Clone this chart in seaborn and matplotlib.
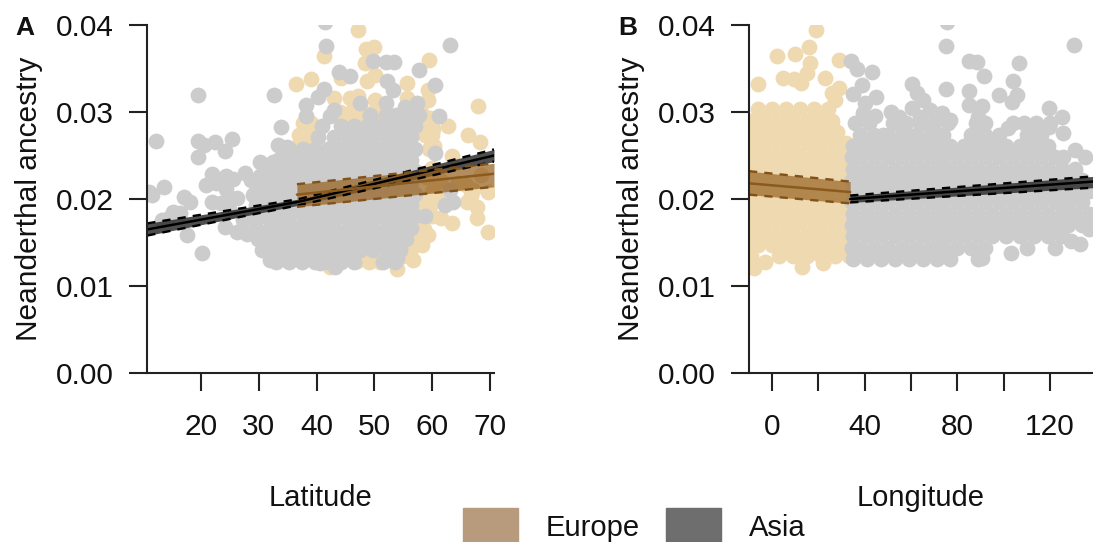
# neanderthal ancestry vs latitude / longitude
import matplotlib
matplotlib.use('Agg')
import matplotlib.pyplot as plt
from matplotlib.patches import Patch
import pandas as pd
import seaborn as sns

# panel A, Asia: single samples outside the dense cloud
a_asia_lat = [41.5, 41.6, 63.1, 49.8, 52, 53.4, 57.8, 43.9, 45.8, 52.2, 60.5, 41.3, 53.3, 19.5, 32.6, 40.2, 38.1, 47.5, 57.4, 43,
              38.1, 61.2, 33.9, 55.3, 57.7, 49.2, 52, 42.3, 12.3, 19.5, 20.5, 22.5, 25.3, 24.1, 19.4, 33.3, 34.8, 30.2, 32.5, 27.7,
              21.9, 24.4, 25.6, 20.9, 13.6, 11.5, 17, 18.1, 15.2, 21.9, 24.4, 26.2, 23.5, 24.6, 13.2, 16.4, 17.5, 20.1, 24.1, 26.2,
              27.9, 28.7, 30.2, 29, 31.9, 43.2, 40.6, 58.8, 60.5, 62.2, 63.6, 63.1, 54.1, 53.9, 45.9, 14.5, 11, 22.6, 25, 27.2]
a_asia_anc = [.0404, .0376, .0377, .0359, .0358, .0358, .0348, .0346, .0341, .0336, .0331, .0326, .0325, .0319, .032, .0317, .0308, .031, .031, .0302,
              .0295, .0295, .0283, .0306, .0297, .0295, .031, .0295, .0267, .0267, .0262, .0266, .0269, .0255, .0248, .0262, .026, .0242, .0242, .023,
              .0229, .0226, .0223, .0216, .0214, .0205, .0202, .0197, .0185, .0196, .0212, .0201, .0195, .0199, .0176, .0184, .0159, .0138, .0168, .0162,
              .016, .0222, .0226, .0205, .013, .0122, .0127, .018, .0253, .0193, .0197, .021, .0143, .0132, .0138, .0178, .0208, .0218, .0186, .0176]

# panel A, Asia: dense cloud, one list of latitudes per ancestry level
a_cloud_anc = [.0128, .0141, .0154, .0167, .018, .0193, .0206, .0219, .0232, .0245, .0258, .0271, .0284, .0297]
a_cloud_lat = [
    [33, 35.3, 37.5, 39.8, 42, 44.3, 46.5, 51.5, 53.6],
    [30.5, 32.2, 34.2, 36.4, 38.7, 40.9, 43.1, 45.4, 47.6, 49.8, 52.1, 54.4],
    [29.8, 31, 33.1, 35.3, 37.6, 39.8, 42, 44.3, 46.5, 48.7, 51, 53.2, 55.4],
    [29.5, 32, 34.2, 36.4, 38.7, 40.9, 43.1, 45.4, 47.6, 49.8, 52.1, 54.4, 56.4],
    [29.2, 31, 33.1, 35.3, 37.6, 39.8, 42, 44.3, 46.5, 48.7, 51, 53.2, 55.4, 57],
    [29.5, 32, 34.2, 36.4, 38.7, 40.9, 43.1, 45.4, 47.6, 49.8, 52.1, 54.4, 56.4],
    [29.1, 31, 33.1, 35.3, 37.6, 39.8, 42, 44.3, 46.5, 48.7, 51, 53.2, 55.4, 57],
    [30, 32, 34.2, 36.4, 38.7, 40.9, 43.1, 45.4, 47.6, 49.8, 52.1, 54.4, 56.4],
    [31.4, 33.1, 35.3, 37.6, 39.8, 42, 44.3, 46.5, 48.7, 51, 53.2, 55.4, 57],
    [33.4, 34.2, 36.4, 38.7, 40.9, 43.1, 45.4, 47.6, 49.8, 52.1, 54.4, 56.4],
    [35.3, 37.6, 39.8, 42, 44.3, 46.5, 48.7, 51, 53.2, 55.4, 57],
    [40.2, 43.1, 45.4, 47.6, 49.8, 52.1, 54.4, 56.4],
    [41, 44.3, 46.5, 48.7, 51, 53.2, 55.4, 57],
    [49.2, 52, 53.8, 55.4, 57.2],
]

# panel A, Europe
a_eur_lat = [47.2, 48.5, 49.9, 41.3, 48.4, 59.4, 36.4, 39, 44.3, 48.7, 50.1, 55.6, 59.3, 59.3, 67.9, 62.7, 66.2, 68.3, 63.4, 43,
             45.8, 47.2, 50.1, 55.6, 59.6, 59.6, 45.2, 38.5, 37.4, 39.4, 69.7, 67.7, 67.7, 69.7, 67, 61.6, 63.5, 59.3, 58.2, 56.7,
             53.9, 50.4, 42.3, 48.7, 52.7, 57, 58.4, 59.6, 58.6, 59.4, 60.2, 60, 57.8, 56.4, 54.6, 47, 68.4, 65.8, 66, 61.4,
             44, 46, 48, 50, 58, 37.6, 39, 44.6, 47, 52, 58.4, 59.8, 37, 38.6, 40, 58.8, 60, 36.8, 38.4, 60.4,
             56, 58, 57.5, 58, 60, 58.5, 60, 60.2, 59, 60.6, 44, 49, 51, 55, 62, 64.4, 66.8]
a_eur_anc = [.0394, .0372, .0375, .0364, .0356, .036, .0332, .0338, .0339, .0336, .0342, .0333, .0325, .0314, .0307, .0284, .0273, .0266, .025, .0316,
             .0316, .0318, .0314, .0316, .0293, .0272, .0289, .0282, .027, .0264, .0162, .0178, .0191, .0208, .021, .0178, .0172, .0159, .0147, .013,
             .012, .0132, .0122, .0136, .0141, .0172, .0187, .0203, .0165, .0258, .0281, .0236, .0155, .0142, .0135, .0129, .0228, .0216, .0196, .0222,
             .03, .03, .03, .03, .03, .0287, .0287, .0287, .0287, .0287, .0287, .0287, .0274, .0274, .0274, .0274, .0274, .0261, .0261, .0261,
             .015, .015, .0165, .018, .018, .0195, .0195, .021, .0225, .0225, .0135, .0128, .0128, .0135, .02, .0218, .0203]

# panel B, Europe
b_eur_lon = [19, 16, 2, 10, 29, 16.5, 15, 4.5, 9.5, -6, 12.5, 23, 29, 26, 27, -8, 13, -3, 22]
b_eur_anc = [.0394, .0375, .0364, .0367, .036, .0356, .0345, .0339, .0338, .0332, .0333, .0339, .0328, .0322, .0314, .0121, .0122, .0128, .0127]
b_eur_cloud_anc = [.0134, .0147, .016, .0173, .0186, .0199, .0212, .0225, .0238, .0251, .0264, .0277, .029, .0303]
b_eur_cloud_lon = [
    [-9, 3, 9, 15, 21, 27, 33],
    [-10, -6, 0, 6, 12, 18, 24, 30],
    [-9, -3, 3, 9, 15, 21, 27, 33],
    [-10, -6, 0, 6, 12, 18, 24, 30],
    [-9, -3, 3, 9, 15, 21, 27, 33],
    [-10, -6, 0, 6, 12, 18, 24, 30],
    [-9, -3, 3, 9, 15, 21, 27, 33],
    [-10, -6, 0, 6, 12, 18, 24, 30],
    [-9, -3, 3, 9, 15, 21, 27, 33],
    [-10, -6, 0, 6, 12, 18, 24, 30],
    [-9, -3, 3, 9, 15, 21, 27, 32],
    [-10, -6, 0, 6, 12, 18, 24, 28],
    [-9, -3, 3, 9, 15, 21, 26],
    [-6, 0, 6, 12, 18, 24],
]

# panel B, Asia
b_asia_lon = [75.6, 75, 130.5, 34, 36.7, 43, 39, 35, 45, 40, 60.5, 62.7, 75, 85, 88.5, 91.7, 106.7, 104, 85, 98,
              105.8, 103.7, 85, 90.7, 119.7, 125, 125.7, 113, 119.7, 102, 65, 68, 73.5, 51.4, 55, 44.5, 77, 60.5, 89, 89,
              39.3, 64, 68, 56.6, 48, 131, 135, 125.7, 103, 90.7, 137, 133, 138, 129]
b_asia_anc = [.0403, .0376, .0377, .0359, .0349, .0346, .0331, .0321, .0317, .031, .0332, .0322, .0326, .0359, .0357, .0341, .0356, .0336, .0324, .032,
              .032, .0311, .0308, .0307, .0305, .0294, .0276, .0283, .0283, .0282, .0314, .0302, .0299, .03, .0294, .0295, .0291, .0305, .0294, .0283,
              .0299, .0294, .0283, .0276, .0274, .0256, .0248, .0248, .0138, .0132, .0165, .0148, .0182, .0152]
b_asia_cloud_anc = [.0131, .0144, .0157, .017, .0183, .0196, .0209, .0222, .0235, .0248, .0261, .0274, .0287]
b_asia_cloud_lon = [
    [35, 41, 47, 53, 59, 65, 71, 77, 89],
    [34.5, 38, 44, 50, 56, 62, 68, 74, 80, 86, 92, 110, 122],
    [35, 41, 47, 53, 59, 65, 71, 77, 83, 89, 95, 101, 107, 113, 119, 125],
    [34.5, 38, 44, 50, 56, 62, 68, 74, 80, 86, 92, 98, 104, 110, 116, 122, 128, 134],
    [35, 41, 47, 53, 59, 65, 71, 77, 83, 89, 95, 101, 107, 113, 119, 125, 131, 137],
    [34.5, 38, 44, 50, 56, 62, 68, 74, 80, 86, 92, 98, 104, 110, 116, 122, 128, 134],
    [35, 41, 47, 53, 59, 65, 71, 77, 83, 89, 95, 101, 107, 113, 119, 125, 131, 137],
    [34.5, 38, 44, 50, 56, 62, 68, 74, 80, 86, 92, 98, 104, 110, 116, 122, 128, 134],
    [35, 41, 47, 53, 59, 65, 71, 77, 83, 89, 95, 101, 107, 113, 119, 125, 131],
    [34.5, 38, 44, 50, 56, 62, 68, 74, 80, 86, 92, 98, 104, 110, 116, 122],
    [35, 41, 47, 53, 59, 65, 71, 77, 83, 89, 95, 101, 107, 113, 119],
    [38, 44, 50, 56, 62, 68, 74, 86, 92, 98, 110, 116],
    [36, 42, 52, 58, 64, 70, 76, 88, 92, 104, 109, 114, 120],
]

# fitted lines: x, fit, lower, upper
a_asia_x = [10.7, 37, 70.7]
a_asia_fit = [.0165, .0197, .0250]
a_asia_lo = [.0158, .0193, .0243]
a_asia_hi = [.0172, .0200, .0257]
a_eur_x = [36.6, 70.7]
a_eur_fit = [.0205, .0229]
a_eur_lo = [.0191, .0214]
a_eur_hi = [.0217, .0241]
b_eur_x = [-10, 33.7]
b_eur_fit = [.0218, .0208]
b_eur_lo = [.0205, .0195]
b_eur_hi = [.0232, .0220]
b_asia_x = [33.7, 138.6]
b_asia_fit = [.0200, .0220]
b_asia_lo = [.0196, .0213]
b_asia_hi = [.0204, .0226]

y_ticks = [0, .01, .02, .03, .04]
a_ticks = [20, 30, 40, 50, 60, 70]
b_ticks = [0, 20, 40, 60, 80, 100, 120]
b_labels = ['0', '', '40', '', '80', '', '120']

BEIGE = '#efd9b0'
GREY = '#cccccc'
INK = '#111111'


def expand(levels, rows):
    xs, ys = [], []
    for level, row in zip(levels, rows):
        for v in row:
            xs.append(v)
            ys.append(level)
    return xs, ys


def points(ax, xs, ys, color):
    df = pd.DataFrame({'x': xs, 'y': ys})
    sns.scatterplot(data=df, x='x', y='y', color=color, s=130, linewidth=0, ax=ax, zorder=2)


def fit(ax, xs, mid, lo, hi, band, line, edge):
    ax.fill_between(xs, lo, hi, color=band[0], alpha=band[1], linewidth=0, zorder=3)
    df = pd.DataFrame({'x': xs, 'mid': mid, 'lo': lo, 'hi': hi})
    sns.lineplot(data=df, x='x', y='mid', color=line, lw=1.8, errorbar=None, ax=ax, zorder=4)
    for col in ['lo', 'hi']:
        sns.lineplot(data=df, x='x', y=col, color=edge, lw=1.7, ls=(0, (3.5, 3)), errorbar=None, ax=ax, zorder=4)


sns.set_theme(style='ticks')
plt.rcParams['font.family'] = ['Liberation Sans', 'DejaVu Sans']
plt.rcParams['text.color'] = INK
plt.rcParams['axes.labelcolor'] = INK
plt.rcParams['xtick.labelcolor'] = INK
plt.rcParams['ytick.labelcolor'] = INK

fig = plt.figure(figsize=(10.93, 5.42), dpi=100)
ax_a = fig.add_axes([147 / 1093, 169 / 542, 347 / 1093, 348 / 542])
ax_b = fig.add_axes([749 / 1093, 169 / 542, 344 / 1093, 348 / 542])

# A
points(ax_a, a_eur_lat, a_eur_anc, BEIGE)
xs, ys = expand(a_cloud_anc, a_cloud_lat)
points(ax_a, xs + a_asia_lat, ys + a_asia_anc, GREY)
fit(ax_a, a_asia_x, a_asia_fit, a_asia_lo, a_asia_hi, ('#303030', .85), 'black', 'black')
fit(ax_a, a_eur_x, a_eur_fit, a_eur_lo, a_eur_hi, ('#96611f', .72), '#8a5a1e', '#80521a')

# B
xs, ys = expand(b_eur_cloud_anc, b_eur_cloud_lon)
points(ax_b, xs + b_eur_lon, ys + b_eur_anc, BEIGE)
xs, ys = expand(b_asia_cloud_anc, b_asia_cloud_lon)
points(ax_b, xs + b_asia_lon, ys + b_asia_anc, GREY)
fit(ax_b, b_eur_x, b_eur_fit, b_eur_lo, b_eur_hi, ('#96611f', .68), '#8a5a1e', '#80521a')
fit(ax_b, b_asia_x, b_asia_fit, b_asia_lo, b_asia_hi, ('#303030', .85), 'black', 'black')

for ax, name in [(ax_a, 'Latitude'), (ax_b, 'Longitude')]:
    ax.set_ylim(0, .04)
    ax.set_yticks(y_ticks)
    ax.set_yticklabels(['%.2f' % v for v in y_ticks])
    ax.set_ylabel('Neanderthal ancestry', fontsize=21.5, labelpad=9)
    ax.set_xlabel(name, fontsize=21, labelpad=31)
    ax.tick_params(axis='y', length=13, width=1.5, pad=11, labelsize=21.5, color='#222222')
    ax.tick_params(axis='x', length=13, width=1.5, pad=16, labelsize=21.5, color='#222222')
    for s in ['left', 'bottom']:
        ax.spines[s].set_linewidth(1.5)
        ax.spines[s].set_color('#222222')
        ax.spines[s].set_zorder(6)
    for s in ['top', 'right']:
        ax.spines[s].set_visible(False)

ax_a.set_xlim(10.66, 70.7)
ax_a.set_xticks(a_ticks)
ax_b.set_xlim(-10, 138.6)
ax_b.set_xticks(b_ticks)
ax_b.set_xticklabels(b_labels)

fig.text(25 / 1093, 1 - 28 / 542, 'A', fontsize=19, fontweight='bold', ha='center', va='center')
fig.text(628 / 1093, 1 - 28 / 542, 'B', fontsize=19, fontweight='bold', ha='center', va='center')

handles = [Patch(color='#b89b7c', label='Europe'), Patch(color='#6e6e6e', label='Asia')]
fig.legend(handles=handles, ncol=2, frameon=False, fontsize=21, loc='lower left',
           bbox_to_anchor=(463 / 1093, -2 / 542), borderpad=0, borderaxespad=0,
           handlelength=1.9, handleheight=1.5, handletextpad=.93, columnspacing=.9)

fig.savefig('out.png', dpi=100)
